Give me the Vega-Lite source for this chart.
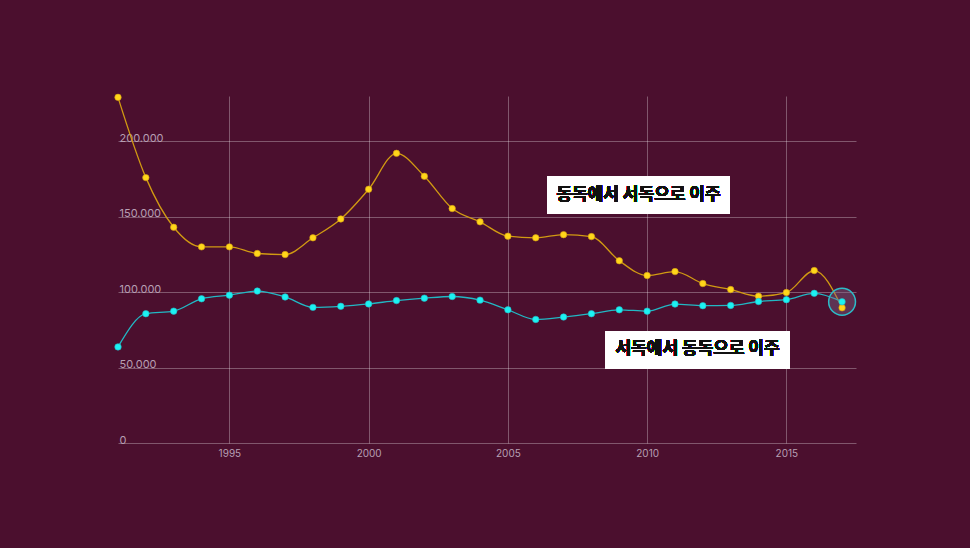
{
  "$schema": "https://vega.github.io/schema/vega-lite/v6.json",
  "width": 738,
  "height": 347,
  "autosize": "none",
  "padding": {"left": 118, "top": 96, "right": 114, "bottom": 105},
  "background": "#4b0f2e",
  "data": {
    "values": [
      {"year": 1991, "series": "동독에서 서독으로 이주", "value": 229100},
      {"year": 1992, "series": "동독에서 서독으로 이주", "value": 175900},
      {"year": 1993, "series": "동독에서 서독으로 이주", "value": 143000},
      {"year": 1994, "series": "동독에서 서독으로 이주", "value": 130000},
      {"year": 1995, "series": "동독에서 서독으로 이주", "value": 130000},
      {"year": 1996, "series": "동독에서 서독으로 이주", "value": 125600},
      {"year": 1997, "series": "동독에서 서독으로 이주", "value": 124900},
      {"year": 1998, "series": "동독에서 서독으로 이주", "value": 136000},
      {"year": 1999, "series": "동독에서 서독으로 이주", "value": 148500},
      {"year": 2000, "series": "동독에서 서독으로 이주", "value": 168200},
      {"year": 2001, "series": "동독에서 서독으로 이주", "value": 192000},
      {"year": 2002, "series": "동독에서 서독으로 이주", "value": 176800},
      {"year": 2003, "series": "동독에서 서독으로 이주", "value": 155400},
      {"year": 2004, "series": "동독에서 서독으로 이주", "value": 146600},
      {"year": 2005, "series": "동독에서 서독으로 이주", "value": 137100},
      {"year": 2006, "series": "동독에서 서독으로 이주", "value": 136000},
      {"year": 2007, "series": "동독에서 서독으로 이주", "value": 138100},
      {"year": 2008, "series": "동독에서 서독으로 이주", "value": 136800},
      {"year": 2009, "series": "동독에서 서독으로 이주", "value": 120800},
      {"year": 2010, "series": "동독에서 서독으로 이주", "value": 111000},
      {"year": 2011, "series": "동독에서 서독으로 이주", "value": 113600},
      {"year": 2012, "series": "동독에서 서독으로 이주", "value": 105700},
      {"year": 2013, "series": "동독에서 서독으로 이주", "value": 101700},
      {"year": 2014, "series": "동독에서 서독으로 이주", "value": 97300},
      {"year": 2015, "series": "동독에서 서독으로 이주", "value": 99700},
      {"year": 2016, "series": "동독에서 서독으로 이주", "value": 114300},
      {"year": 2017, "series": "동독에서 서독으로 이주", "value": 89600},
      {"year": 1991, "series": "서독에서 동독으로 이주", "value": 63700},
      {"year": 1992, "series": "서독에서 동독으로 이주", "value": 85700},
      {"year": 1993, "series": "서독에서 동독으로 이주", "value": 87400},
      {"year": 1994, "series": "서독에서 동독으로 이주", "value": 95600},
      {"year": 1995, "series": "서독에서 동독으로 이주", "value": 98000},
      {"year": 1996, "series": "서독에서 동독으로 이주", "value": 100700},
      {"year": 1997, "series": "서독에서 동독으로 이주", "value": 96800},
      {"year": 1998, "series": "서독에서 동독으로 이주", "value": 89900},
      {"year": 1999, "series": "서독에서 동독으로 이주", "value": 90600},
      {"year": 2000, "series": "서독에서 동독으로 이주", "value": 92200},
      {"year": 2001, "series": "서독에서 동독으로 이주", "value": 94400},
      {"year": 2002, "series": "서독에서 동독으로 이주", "value": 96000},
      {"year": 2003, "series": "서독에서 동독으로 이주", "value": 97100},
      {"year": 2004, "series": "서독에서 동독으로 이주", "value": 94700},
      {"year": 2005, "series": "서독에서 동독으로 이주", "value": 88300},
      {"year": 2006, "series": "서독에서 동독으로 이주", "value": 81900},
      {"year": 2007, "series": "서독에서 동독으로 이주", "value": 83500},
      {"year": 2008, "series": "서독에서 동독으로 이주", "value": 85700},
      {"year": 2009, "series": "서독에서 동독으로 이주", "value": 88300},
      {"year": 2010, "series": "서독에서 동독으로 이주", "value": 87400},
      {"year": 2011, "series": "서독에서 동독으로 이주", "value": 92100},
      {"year": 2012, "series": "서독에서 동독으로 이주", "value": 91000},
      {"year": 2013, "series": "서독에서 동독으로 이주", "value": 91200},
      {"year": 2014, "series": "서독에서 동독으로 이주", "value": 93800},
      {"year": 2015, "series": "서독에서 동독으로 이주", "value": 95000},
      {"year": 2016, "series": "서독에서 동독으로 이주", "value": 99200},
      {"year": 2017, "series": "서독에서 동독으로 이주", "value": 93600}
    ]
  },
  "encoding": {
    "x": {
      "field": "year",
      "type": "quantitative",
      "title": null,
      "scale": {"domain": [1991, 2017.5], "nice": false, "zero": false},
      "axis": {
        "values": [1995, 2000, 2005, 2010, 2015],
        "format": "d",
        "grid": true,
        "gridColor": "#ffffff",
        "gridOpacity": 0.3,
        "domain": false,
        "ticks": false,
        "labelPadding": 5,
        "labelColor": "#b79fb3",
        "labelFont": "Inter",
        "labelFontSize": 10
      }
    },
    "y": {
      "field": "value",
      "type": "quantitative",
      "title": null,
      "scale": {"domain": [0, 230000], "nice": false},
      "axis": {
        "values": [0, 50000, 100000, 150000, 200000],
        "labelExpr": "replace(format(datum.value, ','), ',', '.')",
        "grid": true,
        "gridColor": "#ffffff",
        "gridOpacity": 0.3,
        "domain": false,
        "ticks": false,
        "labelAlign": "left",
        "labelBaseline": "alphabetic",
        "labelPadding": -1,
        "labelDy": -3,
        "labelColor": "#b79fb3",
        "labelFont": "Inter",
        "labelFontSize": 11
      }
    }
  },
  "layer": [
    {
      "mark": {"type": "line", "interpolate": "monotone", "strokeWidth": 1.3},
      "encoding": {
        "stroke": {
          "field": "series",
          "type": "nominal",
          "scale": {"domain": ["동독에서 서독으로 이주", "서독에서 동독으로 이주"], "range": ["#d19a12", "#22b8c4"]},
          "legend": null
        }
      }
    },
    {
      "transform": [{"filter": "datum.year == 2017 && datum.series == '서독에서 동독으로 이주'"}],
      "mark": {"type": "circle", "size": 720, "fill": "#7a6a8c", "fillOpacity": 0.4, "stroke": "#2cbcc8", "strokeWidth": 1.5, "opacity": 1}
    },
    {
      "mark": {"type": "circle", "size": 42, "opacity": 1, "strokeWidth": 0.6},
      "encoding": {
        "fill": {
          "field": "series",
          "type": "nominal",
          "scale": {"domain": ["동독에서 서독으로 이주", "서독에서 동독으로 이주"], "range": ["#ffd61a", "#1cf2f2"]},
          "legend": null
        },
        "stroke": {
          "field": "series",
          "type": "nominal",
          "scale": {"domain": ["동독에서 서독으로 이주", "서독에서 동독으로 이주"], "range": ["#d19a12", "#22b8c4"]},
          "legend": null
        }
      }
    },
    {
      "mark": {"type": "rect", "fill": "#ffffff"},
      "encoding": {
        "x": {"datum": 2006.41, "type": "quantitative"},
        "x2": {"datum": 2012.96},
        "y": {"datum": 177000, "type": "quantitative"},
        "y2": {"datum": 151800}
      }
    },
    {
      "mark": {"type": "text", "text": "동독에서 서독으로 이주", "font": "Noto Sans CJK KR", "fontWeight": "bold", "fontSize": 17, "color": "#111111", "align": "center", "baseline": "middle"},
      "encoding": {
        "x": {"datum": 2009.69, "type": "quantitative"},
        "y": {"datum": 164600, "type": "quantitative"}
      }
    },
    {
      "mark": {"type": "rect", "fill": "#ffffff"},
      "encoding": {
        "x": {"datum": 2008.51, "type": "quantitative"},
        "x2": {"datum": 2015.12},
        "y": {"datum": 73900, "type": "quantitative"},
        "y2": {"datum": 49200}
      }
    },
    {
      "mark": {"type": "text", "text": "서독에서 동독으로 이주", "font": "Noto Sans CJK KR", "fontWeight": "bold", "fontSize": 17, "color": "#111111", "align": "center", "baseline": "middle"},
      "encoding": {
        "x": {"datum": 2011.81, "type": "quantitative"},
        "y": {"datum": 62400, "type": "quantitative"}
      }
    }
  ],
  "config": {
    "view": {"stroke": null}
  }
}
